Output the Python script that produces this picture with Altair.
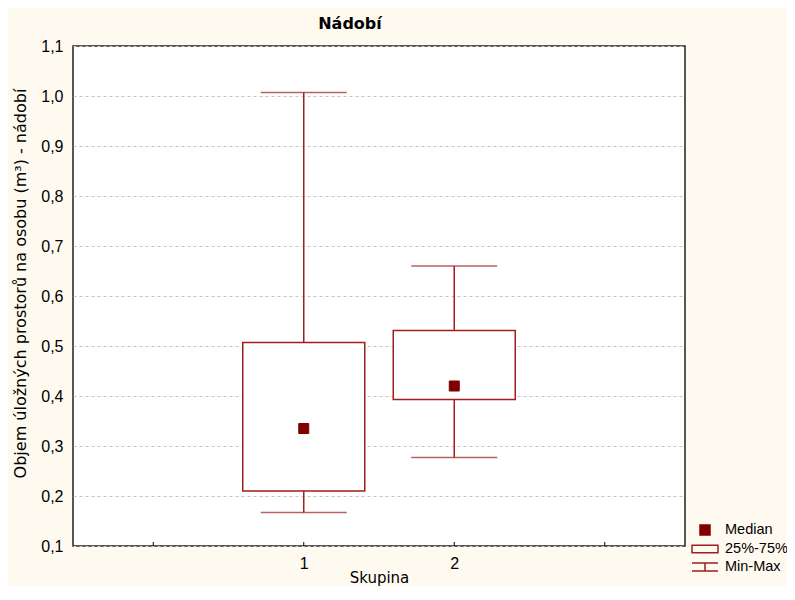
import altair as alt
import pandas as pd

# ---- data ----
groups = [1, 2]
mins = [0.167, 0.277]
q1s = [0.210, 0.393]
medians = [0.335, 0.420]
q3s = [0.507, 0.531]
maxs = [1.007, 0.660]
x_ticks = [0, 1, 2, 3]
y_ticks = [0.1, 0.2, 0.3, 0.4, 0.5, 0.6, 0.7, 0.8, 0.9, 1.0, 1.1]
legend_items = ["Median", "25%-75%", "Min-Max"]

df = pd.DataFrame({
    "group": groups, "min": mins, "q1": q1s, "median": medians,
    "q3": q3s, "max": maxs, "item": ["Median"] * len(groups),
})
ticks_df = pd.DataFrame({"t": x_ticks})

RED = "#a01e1e"
DARK = "#800000"
FONT = "Liberation Sans"
TFONT = "DejaVu Sans"

# symbol paths for legend / median marker
SQ = "M-0.5,-0.5H0.5V0.5H-0.5Z"
RECT = "M-1.3,-0.375H1.3V0.375H-1.3Z"
WHISK = "M-1.3,-0.4H1.3M0,-0.4V0.4M-1.3,0.4H1.3"

x_scale = alt.Scale(domain=[-0.5, 3.5], nice=False, zero=False)
y_scale = alt.Scale(domain=[0.1, 1.1], nice=False, zero=False)

x_axis = alt.Axis(
    values=x_ticks,
    labelExpr="datum.value == 1 || datum.value == 2 ? format(datum.value, 'd') : ''",
    ticks=False, domain=False, grid=False, labelPadding=9,
    labelFontSize=16, labelFont=FONT, labelColor="black", labelAngle=0,
    title="Skupina", titleFontSize=15, titleFont=TFONT, titleFontWeight="normal",
    titleColor="black", titleY=24, titleBaseline="top",
)
y_axis = alt.Axis(
    values=y_ticks,
    labelExpr="replace(format(datum.value, '.1f'), '.', ',')",
    ticks=False, domain=False, grid=True, gridColor="#c4c4c4", gridDash=[3, 3],
    gridWidth=1, labelPadding=10, labelFontSize=16, labelFont=FONT, labelColor="black",
    title="Objem úložných prostorů na osobu (m³) - nádobí",
    titleFontSize=16, titleFont=TFONT, titleFontWeight="normal", titleColor="black",
    titleAngle=270, titleX=-53, titleY=237, titleBaseline="middle",
)

base = alt.Chart(df)

whisker = base.mark_rule(color=RED, strokeWidth=1.5).encode(
    x=alt.X("group:Q", scale=x_scale, axis=x_axis),
    y=alt.Y("min:Q", scale=y_scale, axis=y_axis),
    y2="max:Q",
)
box = base.mark_bar(fill="white", stroke=RED, strokeWidth=1.5, size=122,
                    orient="vertical").encode(
    x=alt.X("group:Q", scale=x_scale),
    y=alt.Y("q1:Q", scale=y_scale),
    y2="q3:Q",
)
cap_lo = base.mark_tick(color=RED, orient="horizontal", size=86,
                        thickness=1.5).encode(
    x=alt.X("group:Q", scale=x_scale), y=alt.Y("min:Q", scale=y_scale))
cap_hi = base.mark_tick(color=RED, orient="horizontal", size=86,
                        thickness=1.5).encode(
    x=alt.X("group:Q", scale=x_scale), y=alt.Y("max:Q", scale=y_scale))

legend = alt.Legend(
    title=None, orient="none", legendX=621, legendY=473, padding=0,
    symbolSize=400, symbolStrokeWidth=1.5, symbolOpacity=1,
    labelFontSize=14.5, labelFont=FONT, labelColor="black", labelOffset=9,
    rowPadding=0, labelLimit=300,
)
median = base.mark_point(filled=True, opacity=1, size=400, strokeWidth=1).encode(
    x=alt.X("group:Q", scale=x_scale),
    y=alt.Y("median:Q", scale=y_scale),
    shape=alt.Shape("item:N", scale=alt.Scale(domain=legend_items,
                                              range=[SQ, RECT, WHISK]),
                    legend=legend),
    fill=alt.Fill("item:N", scale=alt.Scale(domain=legend_items,
                                            range=[DARK, "transparent", "transparent"]),
                  legend=legend),
    stroke=alt.Stroke("item:N", scale=alt.Scale(domain=legend_items,
                                                range=[DARK, RED, RED]),
                      legend=legend),
)

inner_ticks = alt.Chart(ticks_df).mark_rule(color="black", strokeWidth=1).encode(
    x=alt.X("t:Q", scale=x_scale),
    y=alt.value(500), y2=alt.value(496),
)

chart = alt.layer(whisker, box, cap_lo, cap_hi, median, inner_ticks).properties(
    width=612, height=500,
    autosize=alt.AutoSizeParams(type="none"),
    padding={"left": 65, "top": 38, "right": 102, "bottom": 40},
    background="#fffaf0",
    title=alt.Title("Nádobí", fontSize=16, fontWeight="bold", font=TFONT,
                    color="black", anchor="middle", dx=-29, offset=14, dy=21,
                    baseline="alphabetic"),
).configure_view(fill="white", stroke="#222222", strokeWidth=1.5)

chart.save("out.html", embed_options={"renderer": "svg", "actions": False})
